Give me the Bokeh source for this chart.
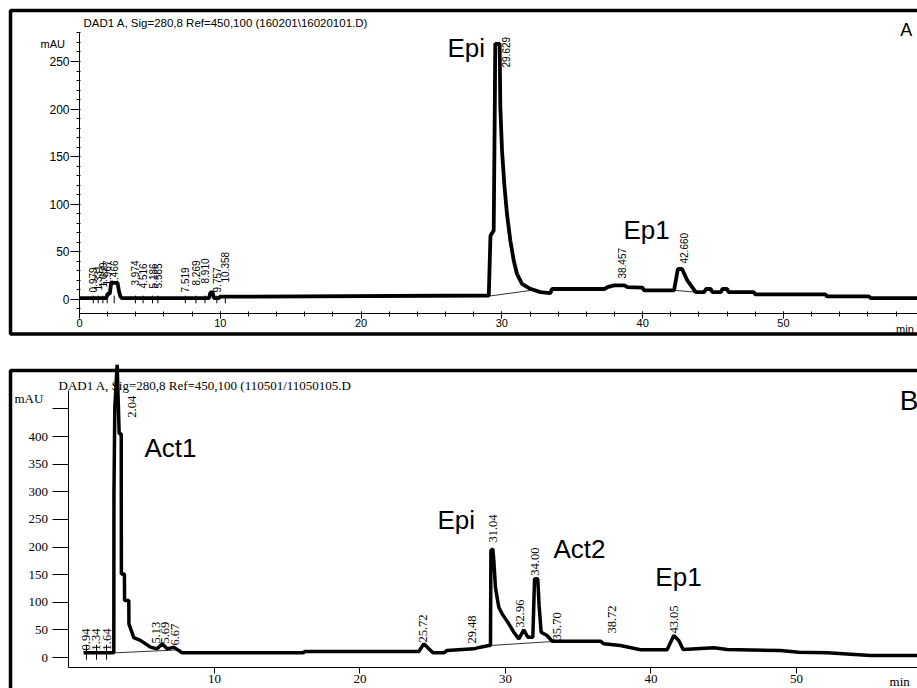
from bokeh.plotting import figure
from bokeh.models import Range1d, FixedTicker, Label, BoxAnnotation
from bokeh.layouts import column
from bokeh.embed import file_html
from bokeh.resources import INLINE

# ---------------- Panel A data (standard) ----------------
a_time = [0.0, 1.9, 2.0, 2.15, 2.25, 2.7, 2.8, 2.9, 3.0, 9.2, 9.3, 9.45, 9.55, 9.9, 10.0, 11.2, 11.4,
          29.07, 29.19, 29.42, 29.49, 29.53, 29.84, 29.89, 30.01, 30.17, 30.36, 30.6, 30.84, 31.07,
          31.43, 32.02, 32.73, 33.44, 33.56, 37.3, 37.5, 37.97, 38.7, 38.92, 39.99, 40.1, 42.23,
          42.5, 42.8, 43.17, 43.77, 44.36, 44.5, 44.83, 44.95, 45.55, 45.67, 46.0, 46.1, 47.9, 48.0,
          52.98, 53.1, 56.06, 56.2, 59.5]
a_signal = [1.5, 1.5, 6, 6, 17.5, 17.5, 9, 3.5, 1.5, 1.5, 7.5, 7.5, 1.5, 1.5, 3, 3, 3,
            4.2, 67, 72.5, 190, 268.6, 268.6, 202, 156.5, 121.5, 90, 62, 41, 27,
            16.5, 11.2, 7.7, 6.6, 11, 11, 13, 14.8, 14.8, 13, 12.4, 9.6, 9.6,
            32, 32, 20, 7.7, 7.7, 11, 11, 7.7, 7.7, 11, 11, 7.7, 7.7, 5.3,
            5.3, 3.2, 3.2, 1.4, 1.4]
a_base_x0 = [29.07, 42.23]
a_base_y0 = [3.5, 9.6]
a_base_x1 = [32.3, 43.77]
a_base_y1 = [10.0, 7.7]
a_rt_text = ["0.979", "1.331", "1.659", "1.967", "2.466", "3.974", "4.516", "5.186", "5.565",
             "7.519", "8.269", "8.910", "9.757", "10.358", "29.629", "38.457", "42.660"]
a_rt_pos = [0.979, 1.331, 1.659, 1.967, 2.466, 3.974, 4.516, 5.186, 5.565,
            7.519, 8.269, 8.910, 9.757, 10.358, 30.27, 38.55, 42.9]
a_rt_base = [7.4, 9.5, 12.6, 14.7, 14.7, 14.7, 11.6, 11.6, 11.6,
             7.4, 14.7, 16.8, 7.4, 17.9, 243.7, 22.0, 37.8]
a_mark_time = [0.979, 1.331, 1.659, 1.967, 2.466, 3.974, 4.516, 5.186, 5.565,
               7.519, 8.269, 8.910, 9.757, 10.358]
a_xticks = [0, 10, 20, 30, 40, 50]
a_xminor = list(range(0, 60, 2))
a_yticks = [0, 50, 100, 150, 200, 250]
a_yminor = list(range(-10, 281, 10))
a_names = ["Epi", "Ep1"]
a_name_t = [26.14, 38.64]
a_name_v = [263.7, 72.5]

# ---------------- Panel B data (sample) ----------------
b_time = [1.0, 3.08, 3.09, 3.15, 3.31, 3.45, 3.59, 3.6, 3.81, 3.82, 4.11, 4.12, 4.45, 4.91, 5.6,
          6.06, 6.4, 6.75, 7.2, 7.78, 16.1, 16.2, 24.04, 24.39, 24.73, 25.03, 25.76, 25.98, 27.82,
          28.28, 28.86, 28.97, 29.0, 29.13, 29.2, 29.31, 29.54, 29.77, 30.23, 30.57, 30.92, 31.26,
          31.53, 31.88, 32.0, 32.22, 32.31, 32.45, 32.86, 33.2, 33.55, 36.53, 36.76, 37.9, 39.28,
          41.11, 41.57, 41.91, 42.21, 44.32, 45.24, 48.9, 50.16, 52.11, 55.09, 58.5]
b_signal = [8.4, 8.4, 296, 453, 530, 405, 405, 151, 151, 103, 103, 61, 36, 31, 18.7,
            15.7, 24.7, 15.7, 18.7, 8.4, 8.4, 10.9, 10.9, 24.7, 15.7, 8.4, 8.4, 12.7, 15.7,
            18.7, 21.7, 21.7, 193.7, 196.7, 175.6, 127, 91, 79, 61, 45.8, 33.8, 50,
            36.8, 36.8, 142.4, 142.4, 94.7, 45.8, 39.8, 29.5, 29.5, 29.5, 24.7, 21.7, 13.9,
            13.9, 39.8, 30.7, 14.5, 17.5, 14.5, 12.7, 9.7, 8.4, 3.6, 3.6]
b_base_x0 = [3.1, 28.97]
b_base_y0 = [8.4, 21.7]
b_base_x1 = [7.7, 33.55]
b_base_y1 = [14.0, 29.5]
b_rt_text = ["0.94", "1.34", "1.64", "2.04", "5.13", "5.69", "6.67", "25.72", "29.48",
             "31.04", "32.96", "34.00", "35.70", "38.72", "43.05"]
b_rt_pos = [1.20, 1.89, 2.58, 4.36, 5.95, 6.63, 7.32, 24.36, 27.73,
            29.11, 31.03, 32.0, 33.57, 37.29, 41.55]
b_rt_base = [12.7, 12.7, 12.7, 434, 25.3, 25.3, 21.7, 27, 25.3,
             208, 54, 148, 30.8, 43.4, 43.4]
b_mark_time = [1.20, 1.89, 2.58]
b_xticks = [10, 20, 30, 40, 50]
b_yticks = [0, 50, 100, 150, 200, 250, 300, 350, 400, 450]
b_names = ["Act1", "Epi", "Act2", "Ep1"]
b_name_t = [5.19, 25.33, 33.3, 40.3]
b_name_v = [380, 248, 197, 146.6]

SANS = "Liberation Sans"
SERIF = "Liberation Serif"


def base_style(p):
    p.xgrid.visible = False
    p.ygrid.visible = False
    p.outline_line_color = None
    p.background_fill_color = "white"
    p.border_fill_color = "white"


def txt(p, x, y, s, font, size, **kw):
    p.add_layout(Label(x=x, y=y, text=s, text_font=font, text_font_size=size,
                       text_color="black", **kw))


def border(p, left, top, right, bottom):
    p.add_layout(BoxAnnotation(left=left, top=top, right=right, bottom=bottom,
                               fill_alpha=0, line_color="black", line_alpha=1.0,
                               line_width=3.5, level="overlay"))


# ---------------- Panel A ----------------
pA = figure(width=917, height=346, x_range=Range1d(-5.611, 59.52), y_range=Range1d(-49.4, 314.1),
            output_backend="svg", toolbar_location=None, min_border=0)
base_style(pA)
pA.line(a_time, a_signal, line_color="black", line_width=3.8)
pA.segment(a_base_x0, a_base_y0, a_base_x1, a_base_y1, line_color="black", line_width=0.8)
pA.segment(a_mark_time, [-4] * len(a_mark_time), a_mark_time, [4] * len(a_mark_time),
           line_color="black", line_width=1)

xa = pA.xaxis[0]
xa.fixed_location = -14.7
xa.bounds = (0, 59.52)
xa.ticker = FixedTicker(ticks=a_xticks, minor_ticks=a_xminor)
xa.major_tick_in, xa.major_tick_out = 2, 5
xa.minor_tick_in, xa.minor_tick_out = 2, 3
xa.major_label_standoff = 1
xa.major_label_text_font = SANS
xa.major_label_text_font_size = "11px"
ya = pA.yaxis[0]
ya.fixed_location = 0
ya.bounds = (-14.7, 280.5)
ya.ticker = FixedTicker(ticks=a_yticks, minor_ticks=a_yminor)
ya.major_tick_in, ya.major_tick_out = 0, 9
ya.minor_tick_in, ya.minor_tick_out = 1, 3
ya.major_label_standoff = 1
ya.major_label_text_font = SANS
ya.major_label_text_font_size = "12px"
for ax in (xa, ya):
    ax.axis_line_color = "black"
    ax.major_tick_line_color = "black"
    ax.minor_tick_line_color = "black"
    ax.major_label_text_color = "black"

for s, x, y in zip(a_rt_text, a_rt_pos, a_rt_base):
    txt(pA, x, y, s, SANS, "10px", angle=90, angle_units="deg",
        text_align="left", text_baseline="middle")
for s, x, y in zip(a_names, a_name_t, a_name_v):
    txt(pA, x, y, s, SANS, "26px", text_align="left", text_baseline="alphabetic")
txt(pA, 0.284, 290, "DAD1 A, Sig=280,8 Ref=450,100 (160201\\16020101.D)", SANS, "11.5px",
    text_align="left", text_baseline="alphabetic")
txt(pA, -2.77, 267.9, "mAU", SANS, "11px", text_align="left", text_baseline="alphabetic")
txt(pA, 58.3, 282.6, "A", SANS, "18px", text_align="left", text_baseline="alphabetic")
txt(pA, 58.0, -25.2, "min", SANS, "11px", text_align="left", text_baseline="top")
border(pA, -4.9, 303.6, 65, -36.2)

# ---------------- Panel B ----------------
pB = figure(width=917, height=342, x_range=Range1d(-4.708, 58.32), y_range=Range1d(-56.1, 562.9),
            output_backend="svg", toolbar_location=None, min_border=0)
base_style(pB)
pB.line(b_time, b_signal, line_color="black", line_width=3.5)
pB.segment(b_base_x0, b_base_y0, b_base_x1, b_base_y1, line_color="black", line_width=0.8)
pB.segment(b_mark_time, [-4] * len(b_mark_time), b_mark_time, [23] * len(b_mark_time),
           line_color="black", line_width=1)

xb = pB.xaxis[0]
xb.fixed_location = -18.1
xb.bounds = (0, 58.32)
xb.ticker = FixedTicker(ticks=b_xticks)
xb.major_tick_in, xb.major_tick_out = 0, 6
xb.minor_tick_line_color = None
xb.major_label_standoff = 1
xb.major_label_text_font = SERIF
xb.major_label_text_font_size = "13px"
yb = pB.yaxis[0]
yb.fixed_location = 0
yb.bounds = (-18.1, 483)
yb.ticker = FixedTicker(ticks=b_yticks)
yb.major_label_overrides = {450: ""}
yb.major_tick_in, yb.major_tick_out = 0, 16
yb.minor_tick_line_color = None
yb.major_label_standoff = 5
yb.major_label_text_font = SERIF
yb.major_label_text_font_size = "13px"
for ax in (xb, yb):
    ax.axis_line_color = "black"
    ax.major_tick_line_color = "black"
    ax.major_label_text_color = "black"

for s, x, y in zip(b_rt_text, b_rt_pos, b_rt_base):
    txt(pB, x, y, s, SERIF, "12.5px", angle=90, angle_units="deg",
        text_align="left", text_baseline="middle")
for s, x, y in zip(b_names, b_name_t, b_name_v):
    txt(pB, x, y, s, SANS, "26px", text_align="left", text_baseline="alphabetic")
txt(pB, -0.722, 491.9, "DAD1 A, Sig=280,8 Ref=450,100 (110501/11050105.D", SERIF, "13px",
    text_align="left", text_baseline="alphabetic")
txt(pB, -3.746, 468.8, "mAU", SERIF, "13px", text_align="left", text_baseline="alphabetic")
txt(pB, 57.1, 464.5, "B", SANS, "28px", text_align="left", text_baseline="alphabetic")
txt(pB, 56.4, -43.5, "min", SERIF, "13px", text_align="left", text_baseline="alphabetic")
border(pB, -4.02, 519.5, 65, -200)

layout = column(pA, pB, spacing=0)
open("out.html", "w").write(file_html(layout, INLINE))
